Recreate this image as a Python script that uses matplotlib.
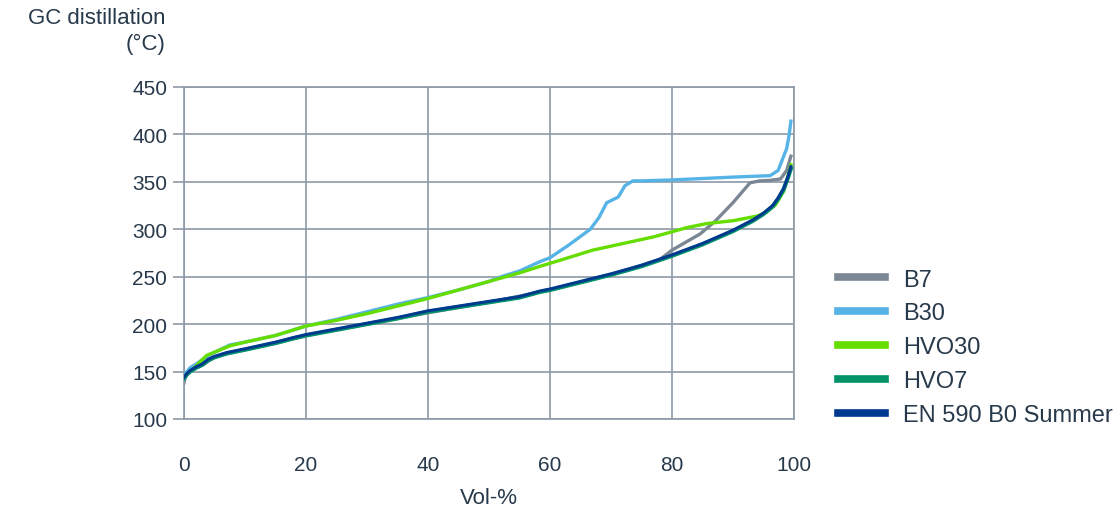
import matplotlib
matplotlib.use('Agg')
import matplotlib.pyplot as plt

plt.rcParams['font.family'] = ['Liberation Sans', 'DejaVu Sans']

# base curve shared by EN 590 B0 Summer / HVO7
base_x = [0, 0.5, 1, 2, 3, 4, 5, 7, 10, 15, 18, 20, 25, 30, 35, 40, 45, 50, 55, 58.4, 60, 65, 70, 75,
          80, 85, 90, 93.3, 95, 96.5, 97.4, 98.3, 99, 99.5]
en590_y = [144, 148, 151, 155, 158, 163, 166, 170, 174, 181, 186, 189, 195, 201, 207, 214, 219, 224, 229,
           235, 237, 245, 253, 262, 273, 285, 299, 310, 317, 325, 333, 343, 355, 366]
hvo7_y = [143, 147, 150, 154, 157, 162, 165, 169, 173, 180, 185, 188, 194, 200, 206, 213, 218, 223, 228,
          234, 236, 244, 252, 261, 272, 284, 298, 309, 316, 324, 332, 342, 354, 364]

b7_x = [0, 0.3, 1, 2, 3, 5, 7, 10, 15, 20, 30, 40, 50, 60, 65, 70, 75, 78, 80, 84.6, 87, 90, 92.8,
        94.4, 96, 97.8, 98.8, 99.5]
b7_y = [138, 146, 150, 154, 157, 165, 169, 173, 180, 188, 200, 212, 223, 236, 244, 252, 262, 268, 278,
        295, 308, 328, 349, 351, 351.5, 353, 362, 377]

b30_x = [0, 0.5, 1, 2, 4, 7.5, 10, 15, 20, 25, 30, 35, 40, 45, 50, 52, 55, 58.4, 60, 63, 66.6, 68,
         69.3, 71.2, 72.3, 73.6, 75, 80, 85, 90, 96.1, 97.4, 98.8, 99.2, 99.5]
b30_y = [146, 150, 154, 158, 167, 178, 181, 188, 198, 205, 213, 221, 228, 236, 245, 250, 256, 266, 270,
         283, 300, 312, 328, 334, 346, 351, 351, 352, 353.5, 355, 356.5, 362, 385, 399, 414]

hvo30_x = [0, 0.4, 1, 2, 3.7, 7.5, 10, 15, 20, 25, 30, 35, 40, 45, 50, 55, 58.4, 62, 67, 72, 77, 82.6,
           85.7, 90, 94, 95.5, 97, 98.3, 99, 99.5]
hvo30_y = [143, 146, 150, 156, 167, 177, 181, 188, 198, 204, 211, 219, 227, 236, 245, 254, 261, 268,
           278, 285, 292, 302, 306, 309, 314, 318, 326, 340, 355, 368]

x_ticks = [0, 20, 40, 60, 80, 100]
y_ticks = [100, 150, 200, 250, 300, 350, 400, 450]

c_b7 = '#7b8894'
c_b30 = '#56b3e6'
c_hvo30 = '#66dd00'
c_hvo7 = '#00936a'
c_en = '#003a8f'
grid_c = '#8d99a6'
text_c = '#27394a'

fig = plt.figure(figsize=(11.17, 5.1), dpi=100)
ax = fig.add_axes([0.1647, 0.1765, 0.5461, 0.651])

ax.plot(b30_x, b30_y, color=c_b30, lw=2.4, label='B30', zorder=3)
ax.plot(hvo30_x, hvo30_y, color=c_hvo30, lw=2.4, label='HVO30', zorder=4)
ax.plot(b7_x, b7_y, color=c_b7, lw=2.4, label='B7', zorder=2)
ax.plot(base_x, hvo7_y, color=c_hvo7, lw=3.0, label='HVO7', zorder=5)
ax.plot(base_x, en590_y, color=c_en, lw=2.2, label='EN 590 B0 Summer', zorder=6)

ax.set_xlim(0, 100)
ax.set_ylim(100, 450)
ax.set_xticks(x_ticks)
ax.set_yticks(y_ticks)
ax.grid(True, color=grid_c, lw=1.2)
ax.set_axisbelow(True)
for s in ax.spines.values():
    s.set_color(grid_c)
    s.set_linewidth(1.2)
ax.tick_params(axis='y', length=8, width=1.2, color=grid_c, pad=4, labelsize=15, labelcolor=text_c)
ax.tick_params(axis='x', length=0, pad=26, labelsize=15, labelcolor=text_c)

fig.text(0.148, 0.985, 'GC distillation\n(°C)', ha='right', va='top', fontsize=16,
         color=text_c, linespacing=1.3)
ax.set_xlabel('Vol-%', fontsize=16, color=text_c, labelpad=9)

h, l = ax.get_legend_handles_labels()
order = ['B7', 'B30', 'HVO30', 'HVO7', 'EN 590 B0 Summer']
hd = dict(zip(l, h))
leg = fig.legend([hd[k] for k in order], order, loc='upper left', bbox_to_anchor=(0.742, 0.49),
                 frameon=False, fontsize=17, handlelength=2.0, handletextpad=0.75, labelspacing=0.5,
                 borderaxespad=0)
for lh in leg.get_lines():
    lh.set_linewidth(5.5)
for t in leg.get_texts():
    t.set_color(text_c)

fig.savefig('out.png', dpi=100)
